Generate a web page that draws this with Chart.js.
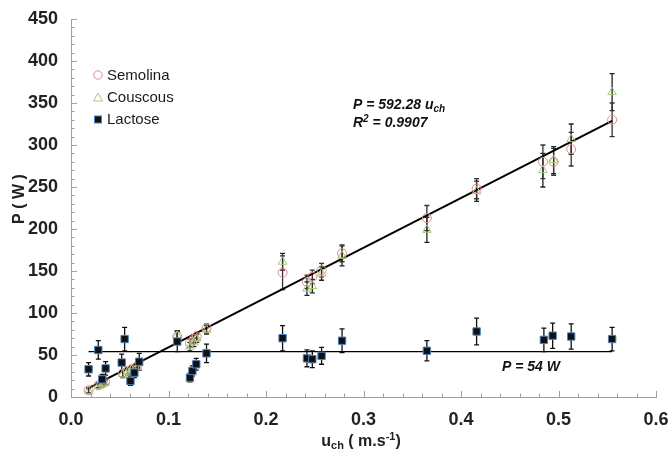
<!DOCTYPE html>
<html>
<head>
<meta charset="utf-8">
<script src="https://cdn.jsdelivr.net/npm/chart.js@4/dist/chart.umd.min.js"></script>
<style>
  html, body { margin: 0; padding: 0; background: #fff; }
  #wrap { width: 670px; height: 452px; }
</style>
</head>
<body>
<div id="wrap"><canvas id="chart"></canvas></div>
<script>
// channel velocity (m/s) for the two cereal products
const uCereal = [0.018, 0.028, 0.032, 0.035, 0.053, 0.058, 0.062, 0.068, 0.109, 0.122, 0.126, 0.129,
  0.139, 0.217, 0.242, 0.2475, 0.257, 0.278, 0.365, 0.416, 0.484, 0.495, 0.513, 0.555];
const pSemolina = [8, 14, 16, 18, 28, 31, 33, 37, 72, 64, 69, 72, 82, 148, 137, 143, 151, 171, 213, 248, 280, 280, 295, 330];
const eSemolina = [3, 3, 3, 3, 4, 4, 4, 4, 6, 5, 5, 5, 5, 20, 8, 8, 8, 10, 15, 12, 20, 16, 20, 20];
const pCouscous = [7, 13, 15, 17, 27, 30, 32, 36, 73, 60, 65, 70, 80, 161, 129, 132, 147, 168, 199, 245, 270, 282, 307, 363];
const eCouscous = [3, 3, 3, 3, 4, 4, 4, 4, 6, 5, 5, 5, 5, 10, 8, 8, 8, 12, 15, 12, 20, 16, 18, 22];

const uLactose = [0.018, 0.028, 0.032, 0.0355, 0.052, 0.055, 0.061, 0.065, 0.070, 0.109, 0.122, 0.1245, 0.1285,
  0.139, 0.217, 0.242, 0.2475, 0.257, 0.278, 0.365, 0.416, 0.485, 0.494, 0.513, 0.555];
const pLactose = [33, 56, 21, 34, 41, 69, 19, 29, 42, 66, 23, 31, 39, 52, 70, 46, 45, 49, 67, 55, 78, 68, 73, 72, 69];
const eLactose = [8, 11, 6, 8, 10, 14, 5, 6, 10, 12, 5, 6, 7, 11, 15, 10, 10, 10, 14, 12, 16, 14, 15, 15, 14];

// fitted models
const fitSlope = 592.28;
const fitR2 = 0.9907;
const lactoseMean = 54;
const fitRange = [0.018, 0.555];

const xTicks = [0, 0.1, 0.2, 0.3, 0.4, 0.5, 0.6];
const yTicks = [0, 50, 100, 150, 200, 250, 300, 350, 400, 450];

const FONT = '"Liberation Sans", Arial, sans-serif';
const AXIS_GRAY = '#a0a0a0';

const pts = (xs, ys) => xs.map((x, i) => ({ x: x, y: ys[i] }));

// draw a run of text pieces (normal / sub / sup) starting at x
function richText(ctx, parts, x, y, align) {
  let total = 0;
  parts.forEach(p => { ctx.font = p.font; total += ctx.measureText(p.t).width; });
  let cx = align === 'center' ? x - total / 2 : x;
  ctx.textAlign = 'left';
  ctx.textBaseline = 'alphabetic';
  parts.forEach(p => {
    ctx.font = p.font;
    ctx.fillText(p.t, cx, y + (p.dy || 0));
    cx += ctx.measureText(p.t).width;
  });
}

const decor = {
  id: 'decor',
  beforeDatasetsDraw(chart) {
    const ctx = chart.ctx, xs = chart.scales.x, ys = chart.scales.y;
    ctx.save();
    chart.data.datasets.forEach(ds => {
      if (!ds.errors) return;
      ctx.strokeStyle = ds.errorColor;
      ctx.lineWidth = 1.3;
      ds.data.forEach((d, i) => {
        const e = ds.errors[i];
        const px = xs.getPixelForValue(d.x);
        const top = ys.getPixelForValue(d.y + e);
        const bot = ys.getPixelForValue(d.y - e);
        ctx.beginPath();
        ctx.moveTo(px, top); ctx.lineTo(px, bot);
        ctx.moveTo(px - 2.5, top); ctx.lineTo(px + 2.5, top);
        ctx.moveTo(px - 2.5, bot); ctx.lineTo(px + 2.5, bot);
        ctx.stroke();
      });
    });
    ctx.restore();
  },
  afterDraw(chart) {
    const ctx = chart.ctx, xs = chart.scales.x, ys = chart.scales.y;
    const area = chart.chartArea;
    ctx.save();

    // inward major / minor ticks
    ctx.strokeStyle = AXIS_GRAY;
    ctx.lineWidth = 1;
    ctx.beginPath();
    for (let v = 0; v <= 450; v += 10) {
      const py = Math.round(ys.getPixelForValue(v)) + 0.5;
      const len = v % 50 === 0 ? 6 : 3.5;
      ctx.moveTo(area.left, py); ctx.lineTo(area.left + len, py);
    }
    for (let k = 0; k <= 30; k++) {
      const px = Math.round(xs.getPixelForValue(k * 0.02)) + 0.5;
      const len = k % 5 === 0 ? 6 : 3.5;
      ctx.moveTo(px, area.bottom); ctx.lineTo(px, area.bottom - len);
    }
    ctx.stroke();

    // legend
    const lx = 98;
    const rows = [
      { label: 'Semolina', y: 75 },
      { label: 'Couscous', y: 97.5 },
      { label: 'Lactose', y: 119.5 }
    ];
    ctx.lineWidth = 1;
    ctx.strokeStyle = '#e08a8a';
    ctx.beginPath(); ctx.arc(lx, rows[0].y, 4.2, 0, Math.PI * 2); ctx.stroke();
    ctx.strokeStyle = '#a8c878';
    ctx.beginPath();
    ctx.moveTo(lx, rows[1].y - 4.5); ctx.lineTo(lx + 4.5, rows[1].y + 3.5); ctx.lineTo(lx - 4.5, rows[1].y + 3.5);
    ctx.closePath(); ctx.stroke();
    ctx.fillStyle = '#111';
    ctx.strokeStyle = '#4f81bd';
    ctx.fillRect(lx - 3.5, rows[2].y - 3.5, 7, 7);
    ctx.strokeRect(lx - 3.5, rows[2].y - 3.5, 7, 7);
    ctx.fillStyle = '#1a1a1a';
    ctx.font = '15px ' + FONT;
    ctx.textAlign = 'left';
    ctx.textBaseline = 'middle';
    rows.forEach(r => ctx.fillText(r.label, 107, r.y + 0.5));

    // fit equations
    ctx.fillStyle = '#111';
    const eq = 'italic bold 14px ' + FONT;
    const eqSmall = 'italic bold 10px ' + FONT;
    richText(ctx, [
      { t: 'P = ' + fitSlope.toFixed(2) + ' u', font: eq },
      { t: 'ch', font: eqSmall, dy: 3 }
    ], 353, 109);
    richText(ctx, [
      { t: 'R', font: eq },
      { t: '2', font: eqSmall, dy: -5 },
      { t: ' = ' + fitR2.toFixed(4), font: eq }
    ], 353, 127);
    richText(ctx, [{ t: 'P = ' + lactoseMean + ' W', font: 'italic bold 14px ' + FONT }], 502, 371);

    // axis titles
    const tb = 'bold 16px ' + FONT;
    const ts = 'bold 11px ' + FONT;
    ctx.fillStyle = '#222';
    richText(ctx, [
      { t: 'u', font: tb },
      { t: 'ch', font: ts, dy: 3 },
      { t: ' ( m.s', font: tb },
      { t: '-1', font: ts, dy: -6 },
      { t: ')', font: tb }
    ], 361, 446, 'center');

    ctx.translate(24, 199);
    ctx.rotate(-Math.PI / 2);
    richText(ctx, [{ t: 'P ( W )', font: tb }], 0, 0, 'center');
    ctx.restore();
  }
};

const lineStart = fitRange[0], lineEnd = fitRange[1];

new Chart(document.getElementById('chart'), {
  type: 'scatter',
  data: {
    datasets: [
      {
        label: 'Lactose',
        data: pts(uLactose, pLactose),
        errors: eLactose,
        errorColor: '#111',
        pointStyle: 'rect',
        pointRadius: 5.2,
        backgroundColor: '#111',
        borderColor: '#4f81bd',
        borderWidth: 1,
        order: 1
      },
      {
        label: 'Couscous',
        data: pts(uCereal, pCouscous),
        errors: eCouscous,
        errorColor: '#222',
        pointStyle: 'triangle',
        pointRadius: 5,
        backgroundColor: 'rgba(0,0,0,0)',
        borderColor: '#a8c878',
        borderWidth: 1,
        order: 2
      },
      {
        label: 'Semolina',
        data: pts(uCereal, pSemolina),
        errors: eSemolina,
        errorColor: '#333',
        pointStyle: 'circle',
        pointRadius: 4.5,
        backgroundColor: 'rgba(0,0,0,0)',
        borderColor: '#e08a8a',
        borderWidth: 1,
        order: 3
      },
      {
        label: 'fit',
        type: 'line',
        data: [{ x: lineStart, y: fitSlope * lineStart }, { x: lineEnd, y: fitSlope * lineEnd }],
        borderColor: '#000',
        borderWidth: 2,
        pointRadius: 0,
        order: 4
      },
      {
        label: 'mean',
        type: 'line',
        data: [{ x: lineStart, y: lactoseMean }, { x: lineEnd, y: lactoseMean }],
        borderColor: '#000',
        borderWidth: 1.4,
        pointRadius: 0,
        order: 5
      }
    ]
  },
  options: {
    responsive: true,
    maintainAspectRatio: false,
    animation: false,
    layout: { padding: { top: 19, right: 14, left: 0, bottom: 0 } },
    plugins: {
      legend: { display: false },
      tooltip: { enabled: false }
    },
    scales: {
      x: {
        type: 'linear',
        min: 0,
        max: 0.6,
        afterBuildTicks: s => { s.ticks = xTicks.map(v => ({ value: v })); },
        afterFit: s => { s.height = 55; s.paddingLeft = 0; s.paddingRight = 0; },
        grid: { display: false },
        border: { display: true, color: AXIS_GRAY, width: 1 },
        ticks: {
          padding: 4,
          color: '#222',
          font: { family: FONT, size: 18, weight: 'bold' },
          callback: v => v.toFixed(1)
        }
      },
      y: {
        min: 0,
        max: 450,
        afterBuildTicks: s => { s.ticks = yTicks.map(v => ({ value: v })); },
        afterFit: s => { s.width = 71; s.paddingTop = 0; s.paddingBottom = 0; },
        grid: { display: false },
        border: { display: true, color: AXIS_GRAY, width: 1 },
        ticks: {
          padding: 5,
          color: '#222',
          font: { family: FONT, size: 18, weight: 'bold' },
          callback: v => String(v)
        }
      }
    }
  },
  plugins: [decor]
});
</script>
</body>
</html>
